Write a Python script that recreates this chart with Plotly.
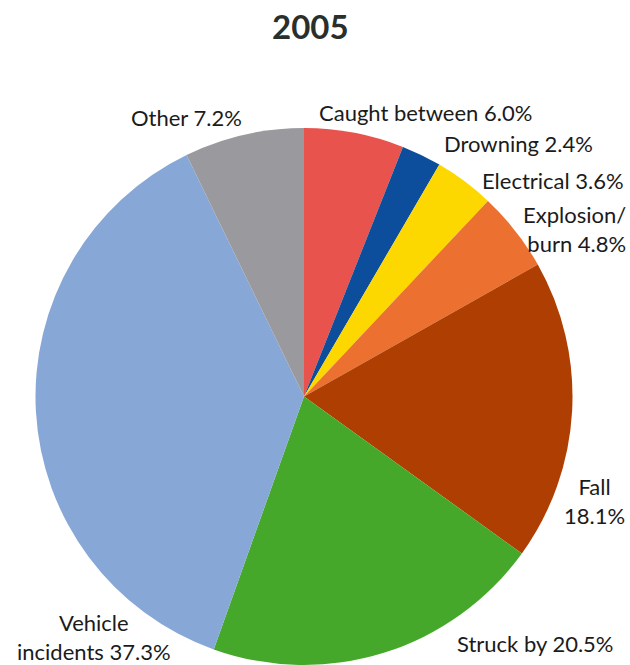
import plotly.graph_objects as go

# ---- data ----
title_text = "2005"
categories = ["Caught between", "Drowning", "Electrical", "Explosion/burn",
              "Fall", "Struck by", "Vehicle incidents", "Other"]
shares = [6.0, 2.4, 3.6, 4.8, 18.1, 20.5, 37.3, 7.2]
colors = ["#E8534D", "#0C4E9B", "#FDD700", "#EC702F",
          "#AE3E02", "#46A82A", "#87A7D7", "#9A9A9E"]

W, H = 630, 665


def px_x(x):
    return x / W


def px_y(y):
    return 1 - y / H


# label placement (pixel x, pixel y centre, anchor, display form)
label_layout = {
    "Caught between": (317, 113, "left", "{n} {p}"),
    "Drowning": (442, 144, "left", "{n} {p}"),
    "Electrical": (480, 181, "left", "{n} {p}"),
    "Explosion/burn": (628, 229, "right", "Explosion/<br>burn {p}"),
    "Fall": (594, 501, "center", "{n}<br>{p}"),
    "Struck by": (535, 643, "center", "{n} {p}"),
    "Vehicle incidents": (94, 637, "center", "Vehicle<br>incidents {p}"),
    "Other": (186, 117, "center", "{n} {p}"),
}

fig = go.Figure()
fig.add_trace(go.Pie(
    labels=categories,
    values=shares,
    sort=False,
    direction="clockwise",
    rotation=0,
    marker=dict(colors=colors, line=dict(width=0)),
    textinfo="none",
    hoverinfo="label+value",
    showlegend=False,
    domain=dict(x=[px_x(34), px_x(574)], y=[px_y(665), px_y(128)]),
))

annotations = []
for name, val in zip(categories, shares):
    x, y, anchor, tmpl = label_layout[name]
    annotations.append(dict(
        x=px_x(x), y=px_y(y), xref="paper", yref="paper",
        xanchor=anchor, yanchor="middle", align=anchor,
        text=tmpl.format(n=name, p=f"{val:.1f}%"),
        showarrow=False,
        font=dict(family="Lato", size=22, color="#1b1b1b"),
    ))

annotations.append(dict(
    x=px_x(310), y=px_y(26), xref="paper", yref="paper",
    xanchor="center", yanchor="middle", text=f"<b>{title_text}</b>",
    showarrow=False, font=dict(family="Lato", size=33, color="#2b2f2b"),
))

fig.update_layout(
    width=W, height=H,
    margin=dict(l=0, r=0, t=0, b=0),
    paper_bgcolor="white",
    plot_bgcolor="white",
    annotations=annotations,
)

fig.write_html("out.html")
